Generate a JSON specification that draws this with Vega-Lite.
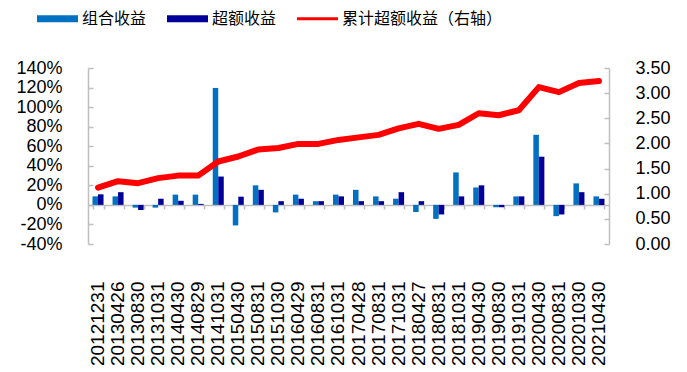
{
  "$schema": "https://vega.github.io/schema/vega-lite/v6.json",
  "width": 521,
  "height": 176,
  "autosize": {"type": "none"},
  "padding": {"left": 88, "top": 68, "right": 78, "bottom": 128},
  "background": "white",
  "config": {"view": {"stroke": null}, "font": "Liberation Sans"},
  "data": {"values": [
    {"date": "20121231", "组合收益": 8.7, "超额收益": 10.8, "cum": 1.12},
    {"date": "20130426", "组合收益": 8.7, "超额收益": 13.0, "cum": 1.25},
    {"date": "20130830", "组合收益": -2.8, "超额收益": -5.2, "cum": 1.21},
    {"date": "20131031", "组合收益": -2.8, "超额收益": 6.3, "cum": 1.31},
    {"date": "20140430", "组合收益": 10.5, "超额收益": 4.2, "cum": 1.36},
    {"date": "20140829", "组合收益": 10.5, "超额收益": 1.0, "cum": 1.36},
    {"date": "20141031", "组合收益": 119.6, "超额收益": 29.0, "cum": 1.64},
    {"date": "20150430", "组合收益": -21.0, "超额收益": 8.4, "cum": 1.74},
    {"date": "20150831", "组合收益": 20.0, "超额收益": 15.4, "cum": 1.88},
    {"date": "20151030", "组合收益": -7.7, "超额收益": 3.8, "cum": 1.91},
    {"date": "20160429", "组合收益": 10.5, "超额收益": 6.3, "cum": 1.99},
    {"date": "20160831", "组合收益": 3.8, "超额收益": 3.8, "cum": 1.99},
    {"date": "20161031", "组合收益": 10.5, "超额收益": 8.7, "cum": 2.07},
    {"date": "20170428", "组合收益": 15.4, "超额收益": 3.8, "cum": 2.12},
    {"date": "20170831", "组合收益": 8.7, "超额收益": 3.8, "cum": 2.17},
    {"date": "20171031", "组合收益": 6.3, "超额收益": 13.0, "cum": 2.30},
    {"date": "20180427", "组合收益": -7.3, "超额收益": 3.8, "cum": 2.39},
    {"date": "20180831", "组合收益": -14.3, "超额收益": -9.8, "cum": 2.29},
    {"date": "20181031", "组合收益": 33.2, "超额收益": 8.7, "cum": 2.37},
    {"date": "20190430", "组合收益": 17.8, "超额收益": 20.0, "cum": 2.60},
    {"date": "20190830", "组合收益": -2.4, "超额收益": -2.4, "cum": 2.56},
    {"date": "20191031", "组合收益": 8.7, "超额收益": 8.7, "cum": 2.66},
    {"date": "20200430", "组合收益": 71.7, "超额收益": 49.3, "cum": 3.12},
    {"date": "20200831", "组合收益": -11.5, "超额收益": -9.8, "cum": 3.02},
    {"date": "20201030", "组合收益": 22.0, "超额收益": 13.0, "cum": 3.20},
    {"date": "20210430", "组合收益": 8.7, "超额收益": 6.3, "cum": 3.24}
  ]},
  "layer": [
    {
      "transform": [{"fold": ["组合收益", "超额收益"], "as": ["系列", "收益"]}],
      "mark": {"type": "bar"},
      "encoding": {
        "x": {
          "field": "date", "type": "nominal", "sort": null,
          "scale": {"paddingInner": 0.45, "paddingOuter": 0.225},
          "axis": {"title": null, "orient": "bottom", "labelAngle": -90, "labelFontSize": 19, "labelAlign": "right", "labelBaseline": "middle", "labelPadding": 37, "domain": false, "ticks": false, "labelColor": "black"}
        },
        "xOffset": {"field": "系列", "sort": ["组合收益", "超额收益"], "scale": {"paddingInner": 0, "paddingOuter": 0}},
        "y": {
          "field": "收益", "type": "quantitative",
          "scale": {"domain": [-40, 140], "nice": false, "zero": false},
          "axis": {"title": null, "grid": false, "values": [-40, -20, 0, 20, 40, 60, 80, 100, 120, 140], "labelExpr": "datum.value + '%'", "labelFontSize": 18, "labelColor": "black", "domainColor": "#BFBFBF", "domainWidth": 1.5, "tickColor": "#BFBFBF", "tickWidth": 1.5, "tickSize": -5, "labelPadding": 31}
        },
        "color": {
          "field": "系列", "type": "nominal",
          "scale": {"domain": ["组合收益", "超额收益", "累计超额收益（右轴）"], "range": ["#0070C0", "#000099", "#FF0000"]},
          "legend": {
            "orient": "none", "legendX": -51, "legendY": -70, "direction": "horizontal", "title": null,
            "labelFont": "Noto Sans CJK SC", "labelFontSize": 16, "labelColor": "black", "labelLimit": 400,
            "symbolSize": 1681, "symbolType": "M-1,-0.17H1V0.17H-1Z", "symbolStrokeWidth": 0,
            "columnPadding": 20, "labelOffset": 4,
            "encode": {"symbols": {"update": {"shape": {"signal": "datum.value === '累计超额收益（右轴）' ? 'M-1,-0.07H1V0.07H-1Z' : 'M-1,-0.17H1V0.17H-1Z'"}}}}
          }
        }
      }
    },
    {
      "mark": {"type": "line", "color": "#FF0000", "strokeWidth": 6, "strokeJoin": "round", "strokeCap": "round"},
      "encoding": {
        "x": {
          "field": "date", "type": "nominal", "sort": null,
          "axis": {"title": null, "orient": "bottom", "labels": false, "offset": -39, "domainColor": "#BFBFBF", "domainWidth": 1.5, "tickColor": "#BFBFBF", "tickWidth": 1.5, "tickSize": 4, "tickBand": "extent"}
        },
        "y": {
          "field": "cum", "type": "quantitative",
          "scale": {"domain": [0, 3.5], "nice": false, "zero": false},
          "axis": {"title": null, "orient": "right", "grid": false, "values": [0, 0.5, 1, 1.5, 2, 2.5, 3, 3.5], "format": ".2f", "labelFontSize": 18, "labelColor": "black", "domainColor": "#BFBFBF", "domainWidth": 1.5, "tickColor": "#BFBFBF", "tickWidth": 1.5, "tickSize": -5, "labelPadding": 31}
        },
        "color": {"datum": "累计超额收益（右轴）"}
      }
    }
  ],
  "resolve": {"scale": {"y": "independent"}, "axis": {"x": "independent"}}
}
